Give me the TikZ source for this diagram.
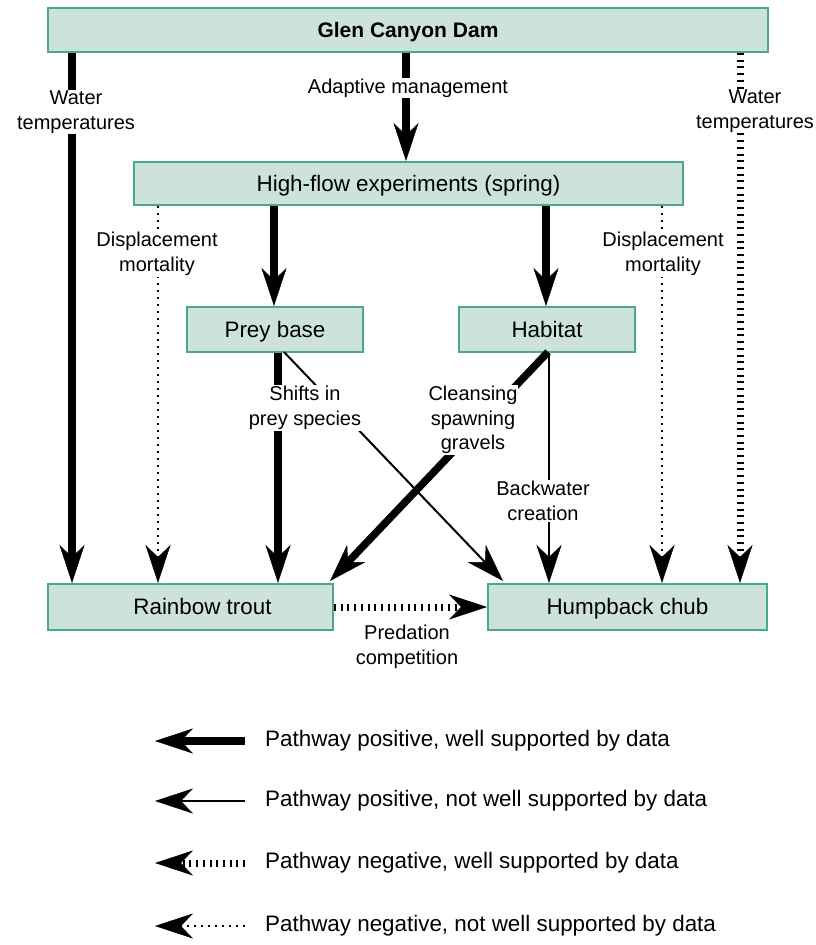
\documentclass[tikz,border=0pt]{standalone}
\usepackage{fontspec}
\setmainfont{Liberation Sans}
\usetikzlibrary{arrows.meta}
\definecolor{boxfill}{HTML}{CDE2DA}
\definecolor{boxline}{HTML}{4AA88E}
\begin{document}
\begin{tikzpicture}[x=1pt,y=-1pt,
  font=\fontsize{20}{24.5}\selectfont,
  big/.style={font=\fontsize{22.4}{26}\selectfont},
  box/.style={draw=boxline, fill=boxfill, line width=2pt, inner sep=0pt, big, text height=17pt, text depth=1.5pt},
  lab/.style={fill=white, inner sep=1pt, align=center},
  leg/.style={anchor=west, inner sep=0pt, big},
  headtip/.style={-{Stealth[length=38pt,width=25pt,inset=12pt,line width=0.5pt]}},
  posstrong/.style={headtip, line width=7.5pt},
  posweak/.style={headtip, line width=2pt},
  negstrong/.style={headtip, line width=7pt, dash pattern=on 2pt off 4.7pt},
  negweak/.style={headtip, line width=2pt, dash pattern=on 2pt off 5pt}]
\useasboundingbox (0,0) rectangle (815,945);

% boxes
\node[box, minimum width=720pt, minimum height=44pt] (dam) at (408,30) {\bfseries\fontsize{21}{24}\selectfont Glen Canyon Dam};
\node[box, minimum width=549pt, minimum height=43pt] (hf) at (408.5,183.5) {High-flow experiments (spring)};
\node[box, minimum width=176pt, minimum height=45pt] (prey) at (275,329.5) {Prey base};
\node[box, minimum width=176pt, minimum height=45pt] (hab) at (547,329.5) {Habitat};
\node[box, minimum width=285pt, minimum height=46pt, label={[xshift=12pt, big, text height=17pt, text depth=1.5pt, inner sep=0pt]center:Rainbow trout}] (trout) at (190.5,607) {};
\node[box, minimum width=279pt, minimum height=46pt] (chub) at (627.5,607) {Humpback chub};

% column coordinates
\coordinate (cWL) at (72,0);
\coordinate (cAM) at (406,0);
\coordinate (cWR) at (740,0);
\coordinate (cDL) at (158,0);
\coordinate (cDR) at (662,0);
\coordinate (cHP) at (274,0);
\coordinate (cHH) at (546,0);
\coordinate (cPT) at (278,0);
\coordinate (cHB) at (549,0);
\coordinate (dPs) at (284,352);
\coordinate (dPe) at (503,581);
\coordinate (dHs) at (548,352);
\coordinate (dHe) at (330,581);

% connectors
\draw[posstrong] (dam.south -| cWL) -- (trout.north -| cWL);
\draw[posstrong] (dam.south -| cAM) -- (hf.north -| cAM);
\draw[negstrong] (dam.south -| cWR) -- (chub.north -| cWR);
\draw[negweak] (hf.south -| cDL) -- (trout.north -| cDL);
\draw[negweak] (hf.south -| cDR) -- (chub.north -| cDR);
\draw[posstrong] (hf.south -| cHP) -- (prey.north -| cHP);
\draw[posstrong] (hf.south -| cHH) -- (hab.north -| cHH);
\draw[posstrong] (prey.south -| cPT) -- (trout.north -| cPT);
\draw[posweak] (dPs) -- (dPe);
\draw[posstrong] (dHs) -- (dHe);
\draw[posweak] (hab.south -| cHB) -- (chub.north -| cHB);
\draw[negstrong] (trout.east) -- (chub.west);

% labels
\node[lab] (l1) at (76,112) {Water\\temperatures};
\node[lab] (l2) at (408,88) {Adaptive management};
\node[lab] (l3) at (755,111) {Water\\temperatures};
\node[lab] (l4) at (157,254) {Displacement\\mortality};
\node[lab] (l5) at (663,254) {Displacement\\mortality};
\node[lab] (l6) at (305,408) {Shifts in\\prey species};
\node[lab] (l7) at (473,420) {Cleansing\\spawning\\gravels};
\node[lab] (l8) at (543,501) {Backwater\\creation};
\node[lab] (l9) at (407,647) {Predation\\competition};

% legend
\coordinate (a1s) at (245,741); \coordinate (a1e) at (155,741);
\coordinate (a2s) at (245,801); \coordinate (a2e) at (155,801);
\coordinate (a3s) at (245,863); \coordinate (a3e) at (155,863);
\coordinate (a4s) at (245,926); \coordinate (a4e) at (155,926);
\draw[posstrong] (a1s) -- (a1e);
\draw[posweak] (a2s) -- (a2e);
\draw[negstrong] (a3s) -- (a3e);
\draw[negweak] (a4s) -- (a4e);
\node[leg] (t1) at (265,741) {Pathway positive, well supported by data};
\node[leg] (t2) at (265,801) {Pathway positive, not well supported by data};
\node[leg] (t3) at (265,863) {Pathway negative, well supported by data};
\node[leg] (t4) at (265,926) {Pathway negative, not well supported by data};
\end{tikzpicture}
\end{document}
